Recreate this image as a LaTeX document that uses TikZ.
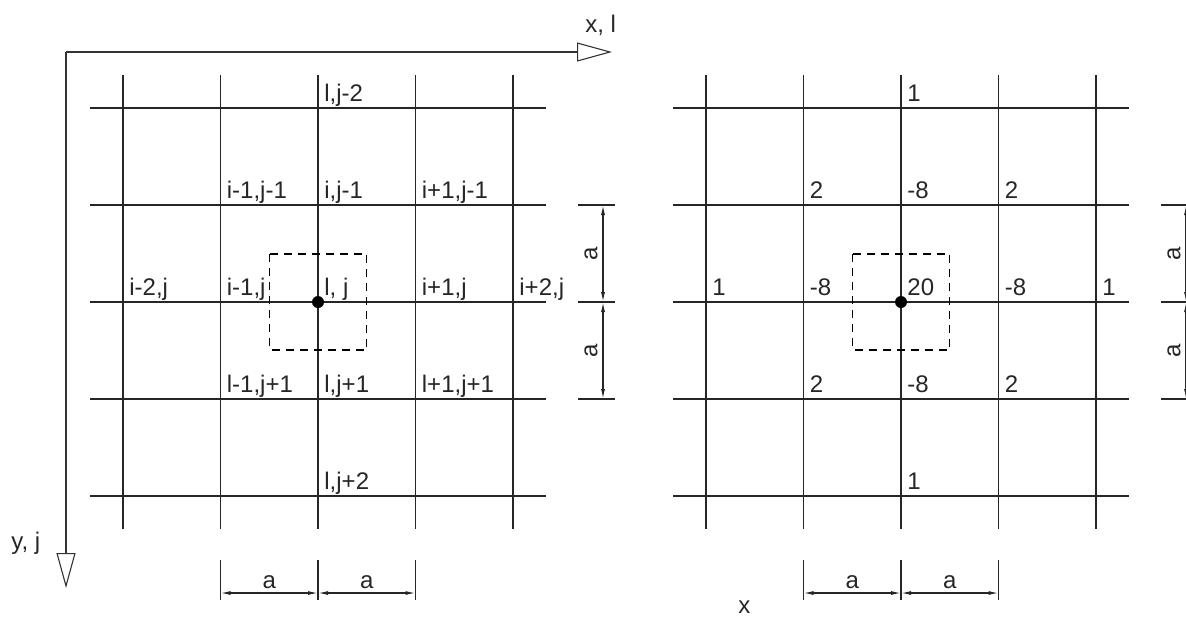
\documentclass[tikz,border=0pt]{standalone}
\usepackage{fontspec}
\setmainfont{Liberation Sans}
\usepackage{tikz}
\usetikzlibrary{arrows.meta,positioning}
\tikzstyle{gridline} = [draw, line width=0.8pt, color=black!85]
\tikzstyle{axis} = [draw, line width=0.55pt, color=black!80, -{Triangle[open,length=17.5pt,width=9.5pt]}]
\tikzstyle{cell} = [draw, line width=0.7pt, dash pattern=on 4pt off 3pt]
\tikzstyle{ext} = [draw, line width=0.6pt, color=black!85]
\tikzstyle{dim} = [draw, line width=0.6pt, color=black!85, {Latex[length=5pt,width=2pt]}-{Latex[length=5pt,width=2pt]}]
\tikzstyle{ptlabel} = [anchor=base west, inner sep=0pt, text=black!85, font=\fontsize{12}{14}\selectfont]
\tikzstyle{dimlabel} = [inner sep=0pt, text=black!85, font=\fontsize{12}{14}\selectfont]
\tikzstyle{centredot} = [circle, fill=black, minimum size=6pt, inner sep=0pt]
\newcommand{\ptlabel}[2]{node (#1) [ptlabel] {#2}}
\newcommand{\dimlabel}[2]{node (#1) [dimlabel] {#2}}
% 5x5 mesh round the centre point #1
\newcommand{\stencilgrid}[1]{%
  \path [gridline] (#1)+(-195,-227) -- +(-195,227);
  \path [gridline] (#1)+(-97.5,-227) -- +(-97.5,227);
  \path [gridline] (#1)+(0,-227) -- +(0,227);
  \path [gridline] (#1)+(97.5,-227) -- +(97.5,227);
  \path [gridline] (#1)+(195,-227) -- +(195,227);
  \path [gridline] (#1)+(-228,-194) -- +(228,-194);
  \path [gridline] (#1)+(-228,-97) -- +(228,-97);
  \path [gridline] (#1)+(-228,0) -- +(228,0);
  \path [gridline] (#1)+(-228,97) -- +(228,97);
  \path [gridline] (#1)+(-228,194) -- +(228,194);
  \path [cell] (#1)+(-48.5,-48) rectangle +(48.5,48);
  \path (#1) node (#1dot) [centredot] {};
}
% dimension lines a, a below and beside the mesh
\newcommand{\stencildims}[1]{%
  \path [ext] (#1)+(-97.5,258) -- +(-97.5,298);
  \path [ext] (#1)+(0,258) -- +(0,298);
  \path [ext] (#1)+(97.5,258) -- +(97.5,298);
  \path (#1)+(-97.5,291) coordinate (#1b1) +(0,291) coordinate (#1b2) +(97.5,291) coordinate (#1b3);
  \path [dim] (#1b1) -- (#1b2);
  \path [dim] (#1b2) -- (#1b3);
  \path (#1)+(-48.75,280) \dimlabel{#1ba}{a};
  \path (#1)+(48.75,280) \dimlabel{#1bb}{a};
  \path [ext] (#1)+(260,-97) -- +(297,-97);
  \path [ext] (#1)+(260,0) -- +(297,0);
  \path [ext] (#1)+(260,97) -- +(297,97);
  \path (#1)+(285,-97) coordinate (#1s1) +(285,0) coordinate (#1s2) +(285,97) coordinate (#1s3);
  \path [dim] (#1s1) -- (#1s2);
  \path [dim] (#1s2) -- (#1s3);
  \path (#1)+(273,-48.5) node (#1sa) [dimlabel, rotate=90] {a};
  \path (#1)+(273,48.5) node (#1sb) [dimlabel, rotate=90] {a};
}

\begin{document}
\begin{tikzpicture}[x=0.5pt,y=-0.5pt]
\useasboundingbox (0,0) rectangle (1186,618);
\clip (0,0) rectangle (1186,618);

% axes
\coordinate (o) at (66,52);
\coordinate (xtip) at (612,52);
\coordinate (ytip) at (66,588);
\path [axis] (o) -- (xtip);
\path [axis] (o) -- (ytip);
\path (xtip)+(-27,-20) \ptlabel{xl}{x, l};
\path (ytip)+(-55,-39) \ptlabel{yl}{y, j};

% left mesh: indices
\coordinate (lc) at (318,302);
\stencilgrid{lc}
\stencildims{lc}
\path (lc)+(6,-201) \ptlabel{l02}{l,j-2};
\path (lc)+(-91.5,-104) \ptlabel{lm11}{i-1,j-1};
\path (lc)+(6,-104) \ptlabel{l01}{i,j-1};
\path (lc)+(103.5,-104) \ptlabel{lp11}{i+1,j-1};
\path (lc)+(-189,-7) \ptlabel{lm20}{i-2,j};
\path (lc)+(-91.5,-7) \ptlabel{lm10}{i-1,j};
\path (lc)+(6,-7) \ptlabel{l00}{l, j};
\path (lc)+(103.5,-7) \ptlabel{lp10}{i+1,j};
\path (lc)+(201,-7) \ptlabel{lp20}{i+2,j};
\path (lc)+(-91.5,90) \ptlabel{lm1p}{l-1,j+1};
\path (lc)+(6,90) \ptlabel{l0p}{l,j+1};
\path (lc)+(103.5,90) \ptlabel{lp1p}{l+1,j+1};
\path (lc)+(6,187) \ptlabel{l0pp}{l,j+2};

% right mesh: weights
\coordinate (rc) at (901,302);
\stencilgrid{rc}
\stencildims{rc}
\path (rc)+(6,-201) \ptlabel{r02}{1};
\path (rc)+(-91.5,-104) \ptlabel{rm11}{2};
\path (rc)+(6,-104) \ptlabel{r01}{-8};
\path (rc)+(103.5,-104) \ptlabel{rp11}{2};
\path (rc)+(-189,-7) \ptlabel{rm20}{1};
\path (rc)+(-91.5,-7) \ptlabel{rm10}{-8};
\path (rc)+(6,-7) \ptlabel{r00}{20};
\path (rc)+(103.5,-7) \ptlabel{rp10}{-8};
\path (rc)+(201,-7) \ptlabel{rp20}{1};
\path (rc)+(-91.5,90) \ptlabel{rm1p}{2};
\path (rc)+(6,90) \ptlabel{r0p}{-8};
\path (rc)+(103.5,90) \ptlabel{rp1p}{2};
\path (rc)+(6,187) \ptlabel{r0pp}{1};
\path (rc)+(-163,311) \ptlabel{rx}{x};
\end{tikzpicture}
\end{document}
